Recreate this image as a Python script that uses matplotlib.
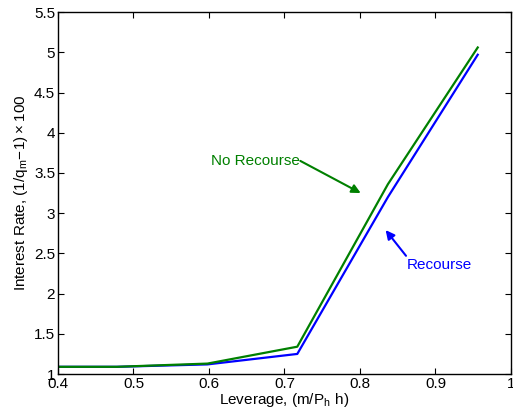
import matplotlib

matplotlib.use("Agg")
import matplotlib.pyplot as plt

# leverage grid and interest rates
leverage = [0.359, 0.478, 0.598, 0.717, 0.837, 0.956]
rate_no_recourse = [1.09, 1.09, 1.13, 1.34, 3.36, 5.06]
rate_recourse = [1.09, 1.09, 1.12, 1.25, 3.20, 4.97]

x_ticks = [0.4, 0.5, 0.6, 0.7, 0.8, 0.9, 1.0]
x_labels = ["0.4", "0.5", "0.6", "0.7", "0.8", "0.9", "1"]
y_ticks = [1, 1.5, 2, 2.5, 3, 3.5, 4, 4.5, 5, 5.5]
y_labels = ["1", "1.5", "2", "2.5", "3", "3.5", "4", "4.5", "5", "5.5"]

GREEN = "#008000"
BLUE = "#0000ff"


def main():
    plt.rcParams["font.family"] = ["Liberation Sans", "DejaVu Sans"]
    plt.rcParams["mathtext.default"] = "regular"

    fig = plt.figure(figsize=(5.13, 4.17), dpi=100)
    ax = fig.add_axes([0.113, 0.103, 0.883, 0.868])

    ax.plot(leverage, rate_recourse, color=BLUE, linewidth=1.6)
    ax.plot(leverage, rate_no_recourse, color=GREEN, linewidth=1.6)

    ax.set_xlim(0.4, 1.0)
    ax.set_ylim(1, 5.5)
    ax.set_xticks(x_ticks)
    ax.set_xticklabels(x_labels)
    ax.set_yticks(y_ticks)
    ax.set_yticklabels(y_labels)
    ax.tick_params(direction="in", length=4, width=0.8, labelsize=11,
                   top=True, right=True, pad=2)
    for spine in ax.spines.values():
        spine.set_linewidth(1.0)

    ax.set_xlabel("Leverage, $(m/P_h\\ h)$", fontsize=11, labelpad=0)
    ax.set_ylabel("Interest Rate, $(1/q_m\\!-\\!1)\\times100$", fontsize=11, labelpad=3)

    ax.text(0.603, 3.65, "No Recourse", color=GREEN, fontsize=11, ha="left", va="center")
    ax.annotate("", xy=(0.801, 3.25), xytext=(0.721, 3.65),
                arrowprops=dict(arrowstyle="-|>", color=GREEN, lw=1.5, mutation_scale=13,
                                shrinkA=0, shrinkB=0))
    ax.text(0.862, 2.36, "Recourse", color=BLUE, fontsize=11, ha="left", va="center")
    ax.annotate("", xy=(0.834, 2.79), xytext=(0.861, 2.47),
                arrowprops=dict(arrowstyle="-|>", color=BLUE, lw=1.5, mutation_scale=13,
                                shrinkA=0, shrinkB=0))

    fig.savefig("out.png", dpi=100)
    plt.close(fig)


if __name__ == "__main__":
    main()
